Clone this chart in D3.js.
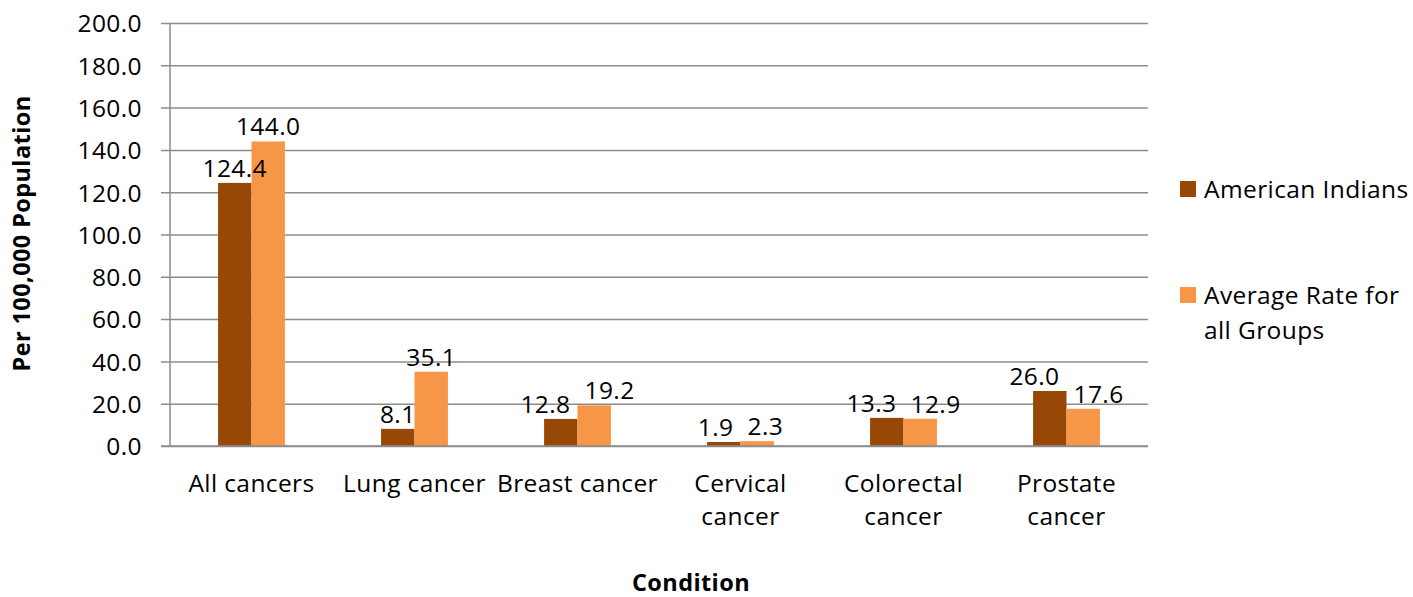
<!DOCTYPE html>
<html>
<head>
<meta charset="utf-8">
<script src="https://cdn.jsdelivr.net/npm/d3@7"></script>
<style>
  body { margin: 0; background: #fff; }
  svg text { font-family: "Open Sans", sans-serif; fill: #000; letter-spacing: 0.4px; }
</style>
</head>
<body>
<div id="chart"></div>
<script>
// chart data
const categories = ['All cancers', 'Lung cancer', 'Breast cancer', 'Cervical cancer', 'Colorectal cancer', 'Prostate cancer'];
const tickLabels = [['All cancers'], ['Lung cancer'], ['Breast cancer'], ['Cervical', 'cancer'], ['Colorectal', 'cancer'], ['Prostate', 'cancer']];
const americanIndians = [124.4, 8.1, 12.8, 1.9, 13.3, 26.0];
const averageAll = [144.0, 35.1, 19.2, 2.3, 12.9, 17.6];
const seriesNames = ['American Indians', 'Average Rate for all Groups'];
const legendLines = [['American Indians'], ['Average Rate for', 'all Groups']];
const colors = ['#974706', '#f79646'];
const yTicks = [0, 20, 40, 60, 80, 100, 120, 140, 160, 180, 200];

const width = 1413, height = 597;
const margin = { top: 23, right: 265, bottom: 151, left: 170 };
const fontSize = '24.5px';

const svg = d3.select('#chart').append('svg')
  .attr('width', width)
  .attr('height', height);

const x = d3.scaleBand()
  .domain(categories)
  .range([margin.left, width - margin.right]);

const y = d3.scaleLinear()
  .domain([0, 200])
  .range([height - margin.bottom, margin.top]);

const barW = x.bandwidth() * 0.205;

// gridlines + y ticks
const yAxis = svg.append('g')
  .attr('transform', `translate(${margin.left},0)`)
  .call(d3.axisLeft(y).tickValues(yTicks).tickFormat(d3.format('.1f'))
    .tickSize(-(width - margin.right - margin.left)).tickPadding(28));
yAxis.select('.domain').remove();
yAxis.selectAll('.tick line').attr('stroke', '#8c8c8c').attr('stroke-width', 1.5).attr('x1', -9);
yAxis.selectAll('.tick text').style('font-size', fontSize).attr('dy', '0.36em');

// vertical axis line
svg.append('line')
  .attr('x1', margin.left).attr('x2', margin.left)
  .attr('y1', y(200)).attr('y2', y(0))
  .attr('stroke', '#8c8c8c').attr('stroke-width', 1.5);

// bars
const series = [americanIndians, averageAll];
series.forEach((vals, si) => {
  svg.append('g').selectAll('rect')
    .data(vals)
    .enter()
    .append('rect')
    .attr('x', (d, i) => x(categories[i]) + x.bandwidth() / 2 - barW + si * barW)
    .attr('y', d => y(d))
    .attr('width', barW)
    .attr('height', d => y(0) - y(d))
    .attr('fill', colors[si]);
});

// baseline over bars
svg.append('line')
  .attr('x1', margin.left - 9).attr('x2', width - margin.right)
  .attr('y1', y(0)).attr('y2', y(0))
  .attr('stroke', '#8c8c8c').attr('stroke-width', 1.5);

// value labels, pushed apart when they'd collide
categories.forEach((c, i) => {
  const cx = x(c) + x.bandwidth() / 2;
  const labels = series.map((vals, si) => svg.append('text')
    .attr('x', cx - barW / 2 + si * barW)
    .attr('y', y(vals[i]) - 6)
    .attr('text-anchor', 'middle')
    .style('font-size', fontSize)
    .text(d3.format('.1f')(vals[i])));
  const b0 = labels[0].node().getBBox();
  const b1 = labels[1].node().getBBox();
  const overlapY = !(b0.y + b0.height - 6 < b1.y || b1.y + b1.height - 6 < b0.y);
  const gap = (b0.x + b0.width + 14) - b1.x;
  if (overlapY && gap > 0) {
    labels[0].attr('x', +labels[0].attr('x') - gap / 2);
    labels[1].attr('x', +labels[1].attr('x') + gap / 2);
  }
});

// category labels
categories.forEach((c, i) => {
  const t = svg.append('text')
    .attr('x', x(c) + x.bandwidth() / 2)
    .attr('y', y(0) + 46)
    .attr('text-anchor', 'middle')
    .style('font-size', fontSize);
  tickLabels[i].forEach((line, li) => {
    t.append('tspan')
      .attr('x', x(c) + x.bandwidth() / 2)
      .attr('dy', li === 0 ? 0 : 33)
      .text(line);
  });
});

// axis titles
svg.append('text')
  .attr('x', 691)
  .attr('y', 591)
  .attr('text-anchor', 'middle')
  .style('font-size', '23.5px')
  .style('font-weight', 'bold')
  .text('Condition');

svg.append('text')
  .attr('transform', `translate(30,${y(100) - 1}) rotate(-90)`)
  .attr('text-anchor', 'middle')
  .style('font-size', '23.5px')
  .style('font-weight', 'bold')
  .text('Per 100,000 Population');

// legend
const legendY = [197, 303];
seriesNames.forEach((name, si) => {
  svg.append('rect')
    .attr('x', 1180).attr('y', legendY[si] - 16)
    .attr('width', 16).attr('height', 16)
    .attr('fill', colors[si]);
  const t = svg.append('text')
    .attr('x', 1204).attr('y', legendY[si] + 1)
    .style('font-size', fontSize);
  legendLines[si].forEach((line, li) => {
    t.append('tspan')
      .attr('x', 1204)
      .attr('dy', li === 0 ? 0 : 35)
      .text(line);
  });
});
</script>
</body>
</html>
